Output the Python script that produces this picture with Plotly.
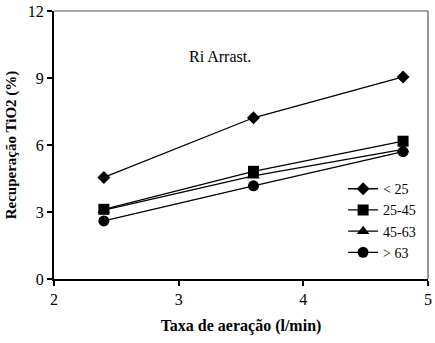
import plotly.graph_objects as go

aeracao = [2.4, 3.6, 4.8]
series_names = ["< 25", "25-45", "45-63", "> 63"]
rec_lt25 = [4.55, 7.22, 9.05]
rec_25_45 = [3.12, 4.82, 6.17]
rec_45_63 = [3.08, 4.62, 5.80]
rec_gt63 = [2.60, 4.17, 5.70]
values = [rec_lt25, rec_25_45, rec_45_63, rec_gt63]
symbols = ["diamond", "square", "triangle-up", "circle"]
sizes = [10, 11, 11, 11]

FONT = "Liberation Serif"

fig = go.Figure()
for name, vals, sym, sz in zip(series_names, values, symbols, sizes):
    fig.add_trace(go.Scatter(
        x=aeracao, y=vals, name=name, mode="lines+markers",
        line=dict(color="black", width=1.3),
        marker=dict(symbol=sym, size=sz, color="black"),
        legendgroup=name,
    ))

fig.add_annotation(x=3.33, y=9.95, text="Ri Arrast.", showarrow=False,
                   font=dict(family=FONT, size=16, color="black"))

fig.update_layout(
    width=435, height=343,
    margin=dict(l=54, r=3, t=7, b=64),
    paper_bgcolor="white", plot_bgcolor="white",
    font=dict(family=FONT, color="black", size=15),
    showlegend=True,
    legend=dict(x=0.773, y=0.395, xanchor="left", yanchor="top",
                font=dict(family=FONT, size=14, color="black"),
                bgcolor="rgba(0,0,0,0)", tracegroupgap=0,
                itemwidth=30),
    xaxis=dict(range=[2, 5], tickvals=[2, 3, 4, 5], ticks="outside",
               ticklen=5, tickwidth=1.5, tickcolor="black",
               ticklabeloverflow="allow",
               showgrid=False, zeroline=False,
               showline=True, linecolor="black", linewidth=2, mirror=False,
               tickfont=dict(family=FONT, size=16, color="black"),
               title=dict(text="<b>Taxa de aeração (l/min)</b>",
                          font=dict(family=FONT, size=16, color="black"), standoff=13)),
    yaxis=dict(range=[0, 12], tickvals=[0, 3, 6, 9, 12], ticks="outside",
               ticklen=5, tickwidth=1.5, tickcolor="black",
               ticklabeloverflow="allow",
               showgrid=False, zeroline=False,
               showline=True, linecolor="black", linewidth=2, mirror=False,
               tickfont=dict(family=FONT, size=16, color="black"),
               title=dict(text="<b>Recuperação TiO2 (%)</b>",
                          font=dict(family=FONT, size=15, color="black"), standoff=8)),
    shapes=[
        dict(type="line", xref="paper", yref="paper", x0=0, x1=1, y0=1, y1=1,
             line=dict(color="#555555", width=1.2)),
        dict(type="line", xref="paper", yref="paper", x0=1, x1=1, y0=0, y1=1,
             line=dict(color="#555555", width=1.2)),
    ],
)

fig.write_html("out.html")
